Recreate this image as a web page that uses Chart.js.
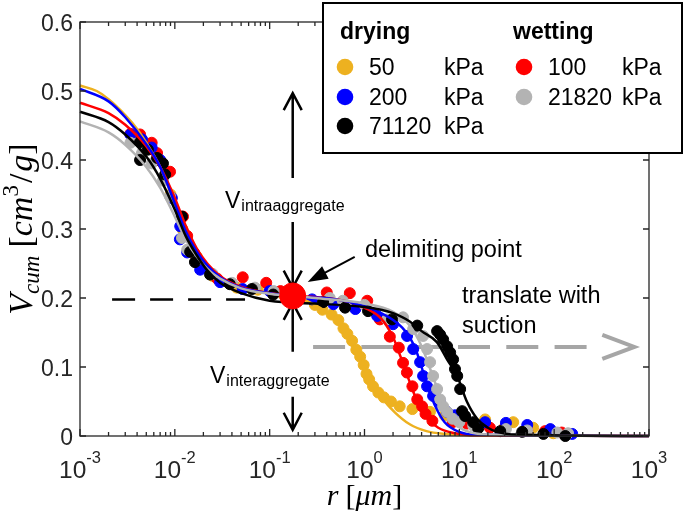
<!DOCTYPE html>
<html>
<head>
<meta charset="utf-8">
<script src="https://cdn.jsdelivr.net/npm/chart.js@4/dist/chart.umd.min.js"></script>
<style>
  body { margin: 0; background: #fff; }
  canvas { display: block; }
</style>
</head>
<body>
<canvas id="c" width="685" height="518"></canvas>
<script>
// measured points (r in um, cumulative volume in cm3/g)
const r50 = [0.0045, 0.0065, 0.009, 0.012, 0.017, 0.025, 0.045, 0.075, 0.14, 0.2, 0.3, 0.36, 0.45, 0.53, 0.6, 0.66, 0.74, 0.82, 0.9, 0.98, 1.05, 1.12, 1.23, 1.4, 1.6, 1.9, 2.35, 3.2, 4.9, 7, 10, 18.7, 37, 60, 98];
const v50 = [0.43, 0.40, 0.35, 0.30, 0.26, 0.232, 0.215, 0.212, 0.205, 0.2, 0.19, 0.183, 0.176, 0.168, 0.156, 0.148, 0.138, 0.125, 0.115, 0.103, 0.09, 0.082, 0.072, 0.063, 0.056, 0.05, 0.043, 0.039, 0.035, 0.03, 0.026, 0.024, 0.02, 0.012, 0.004];

const r100 = [0.0034, 0.0043, 0.0057, 0.0065, 0.0089, 0.0122, 0.0135, 0.016, 0.02, 0.028, 0.052, 0.092, 0.13, 0.2, 0.4, 0.7, 1.07, 1.45, 1.85, 2.3, 2.55, 2.8, 3.2, 3.6, 4.05, 4.4, 5.2, 8.5, 12, 21, 30, 52, 80, 120];
const v100 = [0.438, 0.437, 0.425, 0.41, 0.383, 0.318, 0.29, 0.265, 0.245, 0.228, 0.23, 0.222, 0.21, 0.205, 0.208, 0.207, 0.196, 0.169, 0.144, 0.128, 0.106, 0.092, 0.072, 0.053, 0.043, 0.032, 0.022, 0.02, 0.018, 0.012, 0.012, 0.008, 0.007, 0.005];

const r200 = [0.0034, 0.0045, 0.0057, 0.007, 0.0093, 0.0114, 0.0113, 0.0135, 0.0185, 0.03, 0.052, 0.1, 0.17, 0.28, 0.47, 0.8, 1.36, 2.0, 2.81, 3.26, 3.86, 4.15, 4.57, 5.29, 6.27, 7.43, 9, 18.7, 31, 52, 91, 155];
const v200 = [0.437, 0.43, 0.418, 0.40, 0.345, 0.304, 0.285, 0.266, 0.241, 0.223, 0.213, 0.21, 0.205, 0.198, 0.191, 0.184, 0.174, 0.162, 0.145, 0.126, 0.107, 0.087, 0.072, 0.058, 0.049, 0.035, 0.03, 0.02, 0.019, 0.016, 0.01, 0.003];

const r21820 = [0.0034, 0.0045, 0.0057, 0.0075, 0.0089, 0.0119, 0.0135, 0.017, 0.025, 0.04, 0.07, 0.11, 0.2, 0.43, 0.59, 1.0, 1.73, 2.55, 3.26, 4.15, 4.57, 4.92, 5.29, 5.83, 6.27, 6.75, 7.43, 8.5, 10, 14, 31, 52, 108, 140];
const v21820 = [0.425, 0.41, 0.395, 0.37, 0.347, 0.287, 0.27, 0.255, 0.235, 0.222, 0.215, 0.21, 0.205, 0.2, 0.196, 0.19, 0.169, 0.172, 0.155, 0.145, 0.126, 0.107, 0.087, 0.068, 0.053, 0.043, 0.035, 0.025, 0.02, 0.015, 0.01, 0.008, 0.005, 0.004];

const r71120 = [0.0043, 0.0052, 0.0043, 0.0065, 0.0075, 0.0079, 0.0119, 0.0145, 0.0163, 0.0235, 0.038, 0.065, 0.109, 0.366, 0.624, 1.09, 1.95, 3.6, 5.83, 6.27, 6.75, 7.43, 8.0, 8.6, 9.0, 9.5, 10.2, 10.7, 11.5, 14, 15.8, 27, 46, 77, 131];
const v71120 = [0.426, 0.415, 0.40, 0.403, 0.395, 0.379, 0.318, 0.267, 0.252, 0.234, 0.22, 0.213, 0.205, 0.194, 0.186, 0.181, 0.169, 0.16, 0.152, 0.147, 0.14, 0.13, 0.121, 0.111, 0.097, 0.087, 0.068, 0.036, 0.029, 0.02, 0.011, 0.007, 0.006, 0.003, 0.0];

// fitted curves
const fitR50 = [0.001, 0.0015, 0.002, 0.003, 0.004, 0.005, 0.007, 0.01, 0.013, 0.017, 0.022, 0.03, 0.05, 0.1, 0.2, 0.3, 0.45, 0.6, 0.8, 1.0, 1.25, 1.6, 2.1, 3.0, 4.5, 7, 15, 1000];
const fitV50 = [0.508, 0.5, 0.488, 0.465, 0.445, 0.425, 0.39, 0.337, 0.297, 0.266, 0.246, 0.23, 0.215, 0.207, 0.2, 0.19, 0.174, 0.153, 0.122, 0.096, 0.073, 0.052, 0.034, 0.017, 0.007, 0.003, 0.001, 0];

const fitR100 = [0.001, 0.002, 0.003, 0.005, 0.007, 0.01, 0.013, 0.017, 0.022, 0.03, 0.05, 0.1, 0.2, 0.4, 0.7, 1.0, 1.5, 2.0, 2.4, 3.0, 3.6, 4.5, 6, 9, 15, 1000];
const fitV100 = [0.483, 0.468, 0.451, 0.42, 0.39, 0.345, 0.305, 0.272, 0.25, 0.232, 0.216, 0.207, 0.203, 0.2, 0.194, 0.186, 0.17, 0.143, 0.115, 0.078, 0.05, 0.027, 0.012, 0.004, 0.001, 0];

const fitR200 = [0.001, 0.002, 0.003, 0.005, 0.007, 0.01, 0.013, 0.017, 0.022, 0.03, 0.05, 0.1, 0.2, 0.5, 1.0, 1.5, 2.0, 2.5, 3.0, 3.5, 4.0, 4.6, 5.5, 7, 10, 15, 1000];
const fitV200 = [0.503, 0.485, 0.462, 0.423, 0.39, 0.337, 0.297, 0.267, 0.247, 0.23, 0.215, 0.207, 0.202, 0.198, 0.188, 0.178, 0.168, 0.157, 0.143, 0.124, 0.1, 0.072, 0.045, 0.02, 0.006, 0.002, 0];

const fitR21820 = [0.001, 0.002, 0.003, 0.005, 0.007, 0.01, 0.013, 0.017, 0.022, 0.03, 0.05, 0.1, 0.3, 1.0, 2.0, 3.0, 4.0, 5.0, 6.0, 7.5, 9, 12, 20, 1000];
const fitV21820 = [0.456, 0.44, 0.422, 0.39, 0.36, 0.318, 0.285, 0.26, 0.242, 0.228, 0.214, 0.206, 0.2, 0.192, 0.18, 0.16, 0.13, 0.095, 0.065, 0.035, 0.018, 0.007, 0.002, 0];

const fitR71120 = [0.001, 0.002, 0.003, 0.005, 0.007, 0.01, 0.013, 0.017, 0.022, 0.03, 0.05, 0.1, 0.3, 1.0, 1.5, 2.0, 3.0, 4.0, 5.8, 7.5, 9.5, 12, 15.4, 20, 25, 40, 1000];
const fitV71120 = [0.47, 0.455, 0.437, 0.405, 0.373, 0.328, 0.29, 0.262, 0.24, 0.222, 0.207, 0.196, 0.192, 0.187, 0.183, 0.178, 0.166, 0.152, 0.136, 0.11, 0.087, 0.05, 0.025, 0.012, 0.006, 0.002, 0];

// delimiting point and annotation anchors
const delimR = [0.175];
const delimV = [0.203];
const dashR = [0.00218, 0.055];        // black dashed guide
const dashV = 0.198;
const shiftR = [0.287, 700];          // gray "translate with suction" arrow
const shiftV = 0.129;
const arrowFrom = [0.374, 0.31, 0.122, 0.057];
const arrowTo = [0.497, 0.215, 0.193, 0.009];

const yTicks = [0, 0.1, 0.2, 0.3, 0.4, 0.5, 0.6];
const yTickLabels = ['0', '0.1', '0.2', '0.3', '0.4', '0.5', '0.6'];
const xExps = [-3, -2, -1, 0, 1, 2, 3];

const SANS = '"Liberation Sans", Arial, Helvetica, sans-serif';
const SERIF = '"Liberation Serif", "Times New Roman", serif';
const AXIS = '#262626';

const pair = (rs, vs) => rs.map((r, i) => ({ x: r, y: vs[i] }));

const series = [
  { color: '#EDB120', r: r50, v: v50, fr: fitR50, fv: fitV50 },
  { color: '#FF0000', r: r100, v: v100, fr: fitR100, fv: fitV100 },
  { color: '#0000FF', r: r200, v: v200, fr: fitR200, fv: fitV200 },
  { color: '#B3B3B3', r: r21820, v: v21820, fr: fitR21820, fv: fitV21820 },
  { color: '#000000', r: r71120, v: v71120, fr: fitR71120, fv: fitV71120 },
];

const datasets = [];
series.forEach((s, i) => {
  datasets.push({
    data: pair(s.r, s.v), showLine: false,
    pointRadius: 5.5, pointBorderWidth: 1,
    pointBackgroundColor: s.color, pointBorderColor: s.color,
    order: 10 - i, clip: false
  });
  datasets.push({
    data: pair(s.fr, s.fv), showLine: true, pointRadius: 0,
    borderColor: s.color, borderWidth: 2.5,
    cubicInterpolationMode: 'monotone',
    order: 5 - i, clip: false
  });
});
datasets.push({
  data: pair(delimR, delimV), showLine: false,
  pointRadius: 13, pointBorderWidth: 1,
  pointBackgroundColor: '#FF0000', pointBorderColor: '#FF0000',
  order: 0, clip: false
});

// open-head vertical arrow, tip at yTo
function vArrow(ctx, x, yFrom, yTo) {
  const d = yTo > yFrom ? 1 : -1;
  ctx.beginPath();
  ctx.moveTo(x, yFrom);
  ctx.lineTo(x, yTo);
  ctx.moveTo(x - 9, yTo - d * 17);
  ctx.lineTo(x, yTo);
  ctx.lineTo(x + 9, yTo - d * 17);
  ctx.stroke();
}

function vLabel(ctx, x, base, sub) {
  ctx.font = '23px ' + SANS;
  ctx.fillText('V', x, base);
  const w = ctx.measureText('V').width;
  ctx.font = '16px ' + SANS;
  ctx.fillText(sub, x + w + 1, base + 3);
}

// draw a run of [text, font, dy, extra gap] pieces starting at x
function runText(ctx, pieces, x, base) {
  pieces.forEach(p => {
    ctx.font = p[1];
    ctx.fillText(p[0], x, base + p[2]);
    x += ctx.measureText(p[0]).width + (p[3] || 0);
  });
  return x;
}
function runWidth(ctx, pieces) {
  let w = 0;
  pieces.forEach(p => { ctx.font = p[1]; w += ctx.measureText(p[0]).width + (p[3] || 0); });
  return w;
}

const decor = {
  id: 'decor',
  beforeDatasetsDraw(chart) {
    const { ctx, scales: { x, y } } = chart;
    const X = v => x.getPixelForValue(v), Y = v => y.getPixelForValue(v);
    ctx.save();
    ctx.lineCap = 'butt';

    // dashed guide at the delimiting level
    ctx.strokeStyle = '#000';
    ctx.lineWidth = 2.5;
    ctx.setLineDash([23, 15]);
    ctx.beginPath();
    ctx.moveTo(X(dashR[0]), Y(dashV));
    ctx.lineTo(X(dashR[1]), Y(dashV));
    ctx.stroke();

    // gray dashed shift arrow
    const tipX = X(shiftR[1]), sy = Y(shiftV);
    ctx.strokeStyle = '#A6A6A6';
    ctx.lineWidth = 4;
    ctx.setLineDash([32, 16.3]);
    ctx.beginPath();
    ctx.moveTo(X(shiftR[0]), sy);
    ctx.lineTo(tipX - 46, sy);
    ctx.stroke();
    ctx.setLineDash([]);
    ctx.beginPath();
    ctx.moveTo(tipX - 32, sy - 12);
    ctx.lineTo(tipX, sy);
    ctx.lineTo(tipX - 32, sy + 12);
    ctx.stroke();

    // vertical arrows through the delimiting point
    ctx.strokeStyle = '#000';
    ctx.lineWidth = 2.5;
    const ax = X(delimR[0]);
    arrowFrom.forEach((f, i) => vArrow(ctx, ax, Y(f), Y(arrowTo[i])));

    // pointer to the delimiting point
    const p0 = { x: ax + 62, y: Y(delimV[0]) - 39 };
    const p1 = { x: ax + 15, y: Y(delimV[0]) - 14 };
    const ang = Math.atan2(p1.y - p0.y, p1.x - p0.x);
    ctx.lineWidth = 2;
    ctx.beginPath();
    ctx.moveTo(p0.x, p0.y);
    ctx.lineTo(p1.x - 16 * Math.cos(ang), p1.y - 16 * Math.sin(ang));
    ctx.stroke();
    ctx.fillStyle = '#000';
    ctx.beginPath();
    ctx.moveTo(p1.x, p1.y);
    ctx.lineTo(p1.x - 20 * Math.cos(ang) + 7 * Math.sin(ang), p1.y - 20 * Math.sin(ang) - 7 * Math.cos(ang));
    ctx.lineTo(p1.x - 20 * Math.cos(ang) - 7 * Math.sin(ang), p1.y - 20 * Math.sin(ang) + 7 * Math.cos(ang));
    ctx.closePath();
    ctx.fill();

    // texts
    ctx.fillStyle = '#000';
    ctx.textAlign = 'left';
    ctx.textBaseline = 'alphabetic';
    vLabel(ctx, 225, 208, 'intraaggregate');
    vLabel(ctx, 210, 383, 'interaggregate');
    ctx.font = '23.5px ' + SANS;
    ctx.fillText('delimiting point', 365, 257);
    ctx.fillText('translate with', 462, 303);
    ctx.fillText('suction', 462, 333);
    ctx.restore();
  },
  afterDraw(chart) {
    const { ctx, chartArea: a, scales: { x, y } } = chart;
    const X = v => x.getPixelForValue(v), Y = v => y.getPixelForValue(v);
    ctx.save();

    // axes box
    ctx.strokeStyle = AXIS;
    ctx.lineWidth = 1.3;
    ctx.strokeRect(a.left, a.top, a.right - a.left, a.bottom - a.top);

    // ticks, pointing inward, on all four sides
    ctx.beginPath();
    for (let e = -3; e <= 3; e++) {
      const px = X(Math.pow(10, e));
      ctx.moveTo(px, a.bottom); ctx.lineTo(px, a.bottom - 7);
      ctx.moveTo(px, a.top); ctx.lineTo(px, a.top + 7);
      if (e < 3) {
        for (let k = 2; k <= 9; k++) {
          const mx = X(k * Math.pow(10, e));
          ctx.moveTo(mx, a.bottom); ctx.lineTo(mx, a.bottom - 4);
          ctx.moveTo(mx, a.top); ctx.lineTo(mx, a.top + 4);
        }
      }
    }
    yTicks.forEach(t => {
      const py = Y(t);
      ctx.moveTo(a.left, py); ctx.lineTo(a.left + 6, py);
      ctx.moveTo(a.right, py); ctx.lineTo(a.right - 6, py);
    });
    ctx.stroke();

    // y tick labels
    ctx.fillStyle = AXIS;
    ctx.font = '23px ' + SANS;
    ctx.textAlign = 'right';
    ctx.textBaseline = 'alphabetic';
    yTicks.forEach((t, i) => ctx.fillText(yTickLabels[i], a.left - 7, Y(t) + 9));

    // x tick labels 10^e
    ctx.textAlign = 'left';
    xExps.forEach(e => {
      const px = X(Math.pow(10, e));
      ctx.font = '24.5px ' + SANS;
      const wb = ctx.measureText('10').width;
      ctx.font = '16.5px ' + SANS;
      const es = String(e);
      const we = ctx.measureText(es).width;
      const x0 = px - (wb + we) / 2;
      ctx.font = '24.5px ' + SANS;
      ctx.fillText('10', x0, 478);
      ctx.font = '16.5px ' + SANS;
      ctx.fillText(es, x0 + wb, 463);
    });

    // axis titles
    ctx.fillStyle = '#000';
    const xf = '30px ' + SERIF;
    const xt = [['r', 'italic ' + xf, 0, 7], ['[', xf, 0], ['μm', 'italic ' + xf, 0], [']', xf, 0]];
    runText(ctx, xt, (a.left + a.right) / 2 - runWidth(ctx, xt) / 2, 505);

    const yf = '34px ' + SERIF, yS = '23px ' + SERIF;
    const yt = [['V', 'italic ' + yf, 0], ['cum', 'italic ' + yS, 7, 8], ['[', yf, 0], ['cm', 'italic ' + yf, 0], ['3', yS, -14, 2], ['/', yf, 0, 2], ['g', 'italic ' + yf, 0], [']', yf, 0]];
    ctx.save();
    ctx.translate(32, (a.top + a.bottom) / 2);
    ctx.rotate(-Math.PI / 2);
    runText(ctx, yt, -runWidth(ctx, yt) / 2, 0);
    ctx.restore();

    // legend box
    ctx.fillStyle = '#fff';
    ctx.fillRect(323, 3, 359, 150);
    ctx.strokeStyle = '#000';
    ctx.lineWidth = 2;
    ctx.strokeRect(323, 3, 359, 150);
    ctx.fillStyle = '#000';
    ctx.font = 'bold 23px ' + SANS;
    ctx.fillText('drying', 340, 39);
    ctx.fillText('wetting', 513, 39);
    const rows = [
      [345, 67, '#EDB120', '50', 369, 444],
      [345, 97, '#0000FF', '200', 369, 444],
      [345, 126, '#000000', '71120', 369, 444],
      [524, 67, '#FF0000', '100', 548, 622],
      [524, 97, '#B3B3B3', '21820', 548, 622],
    ];
    ctx.font = '23px ' + SANS;
    rows.forEach(rw => {
      ctx.fillStyle = rw[2];
      ctx.beginPath();
      ctx.arc(rw[0], rw[1], 8.3, 0, Math.PI * 2);
      ctx.fill();
      ctx.fillStyle = '#000';
      ctx.fillText(rw[3], rw[4], rw[1] + 8);
      ctx.fillText('kPa', rw[5], rw[1] + 8);
    });
    ctx.restore();
  }
};

new Chart(document.getElementById('c'), {
  type: 'scatter',
  data: { datasets },
  options: {
    responsive: false,
    animation: false,
    devicePixelRatio: 1,
    layout: { padding: { left: 80, right: 36, top: 22, bottom: 82 } },
    plugins: { legend: { display: false }, tooltip: { enabled: false } },
    scales: {
      x: { type: 'logarithmic', min: 0.001, max: 1000, display: false },
      y: { type: 'linear', min: 0, max: 0.6, display: false }
    }
  },
  plugins: [decor]
});
</script>
</body>
</html>
